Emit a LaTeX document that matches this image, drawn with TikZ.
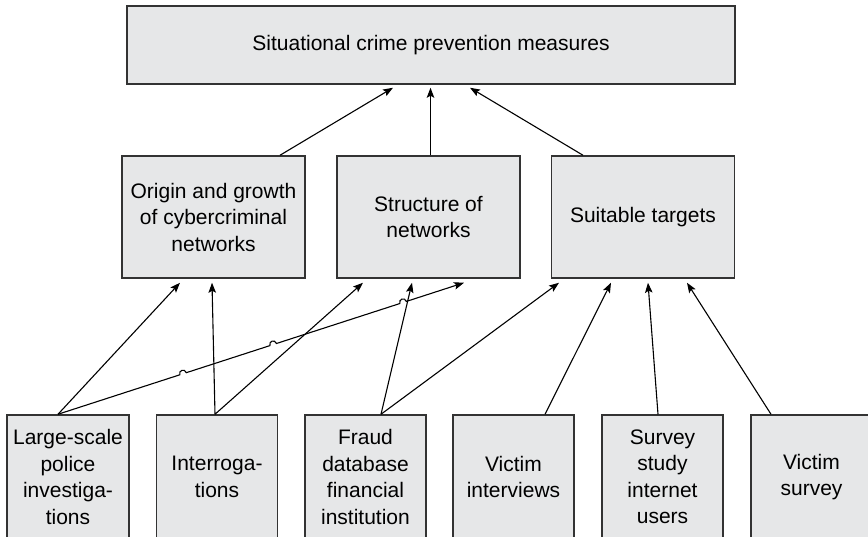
\documentclass[tikz,border=0pt]{standalone}
\usepackage{fontspec}
\setmainfont{Liberation Sans}
\usetikzlibrary{arrows.meta,calc}
\definecolor{boxfill}{HTML}{E6E7E8}
\definecolor{boxline}{HTML}{333333}
\begin{document}
\begin{tikzpicture}[x=1pt,y=-1pt,
  box/.style={draw=boxline,fill=boxfill,line width=1.5pt,rectangle,inner sep=0pt,
    align=center,font=\fontsize{21pt}{26.5pt}\selectfont},
  midbox/.style={box,minimum width=183pt,minimum height=122pt},
  srcbox/.style={box,minimum width=121pt,minimum height=124pt},
  link/.style={line width=1.1pt,-{Stealth[length=10pt,width=7.5pt,inset=2pt]}},
  hop/.style={bend left=90,looseness=1.8}]
\useasboundingbox (0,0) rectangle (868,536);

% top level
\node[box,minimum width=608pt,minimum height=78pt] (top) at (431,45)
  {Situational crime prevention measures};

% middle level
\node[midbox] (m1) at (213.5,217) {Origin and growth\\of cybercriminal\\networks};
\node[midbox] (m2) at (428.5,217) {Structure of\\networks};
\node[midbox] (m3) at (643,217) {Suitable targets};

% data sources (their lower edge runs past the page)
\node[srcbox,minimum width=122pt] (b1) at (68,477) {Large-scale\\police\\investiga-\\tions};
\node[srcbox] (b2) at (217,477) {Interroga-\\tions};
\node[srcbox] (b3) at (365.5,477) {Fraud\\database\\financial\\institution};
\node[srcbox] (b4) at (513.5,477) {Victim\\interviews};
\node[srcbox] (b5) at (662.5,477) {Survey\\study\\internet\\users};
\node[srcbox] (b6) at (811.5,477) {Victim\\survey};

% middle -> top
\draw[link] ([xshift=66.5pt]m1.north) -- ([xshift=-38pt,yshift=-3pt]top.south);
\draw[link] ([xshift=2pt]m2.north) -- ([xshift=-0.5pt,yshift=-3pt]top.south);
\draw[link] ([xshift=-60pt]m3.north) -- ([xshift=39pt,yshift=-3pt]top.south);

% sources -> middle
\draw[link] ([xshift=-10pt]b1.north) -- ([xshift=-33.5pt,yshift=-4pt]m1.south);
\draw[link] ([xshift=-2pt]b2.north) -- ([xshift=-1.5pt,yshift=-4pt]m1.south);
\draw[link] ([xshift=-2pt]b2.north) -- ([xshift=-65.5pt,yshift=-4pt]m2.south);
\draw[link] ([xshift=15.5pt]b3.north) -- ([xshift=-16.5pt,yshift=-4pt]m2.south);
\draw[link] ([xshift=15.5pt]b3.north) -- ([xshift=-84pt,yshift=-4pt]m3.south);
\draw[link] ([xshift=31.5pt]b4.north) -- ([xshift=-32pt,yshift=-4pt]m3.south);
\draw[link] ([xshift=-4.5pt]b5.north) -- ([xshift=5pt,yshift=-4pt]m3.south);
\draw[link] ([xshift=-40.5pt]b6.north) -- ([xshift=44pt,yshift=-4pt]m3.south);

% long connector with line hops
\coordinate (hs) at ([xshift=-10pt]b1.north);
\coordinate (he) at ([xshift=35.5pt,yshift=-4pt]m2.south);
\draw[link] (hs) -- ($(hs)!0.300!(he)$) to[hop] ($(hs)!0.316!(he)$)
  -- ($(hs)!0.522!(he)$) to[hop] ($(hs)!0.538!(he)$)
  -- ($(hs)!0.842!(he)$) to[hop] ($(hs)!0.858!(he)$) -- (he);
\end{tikzpicture}
\end{document}
